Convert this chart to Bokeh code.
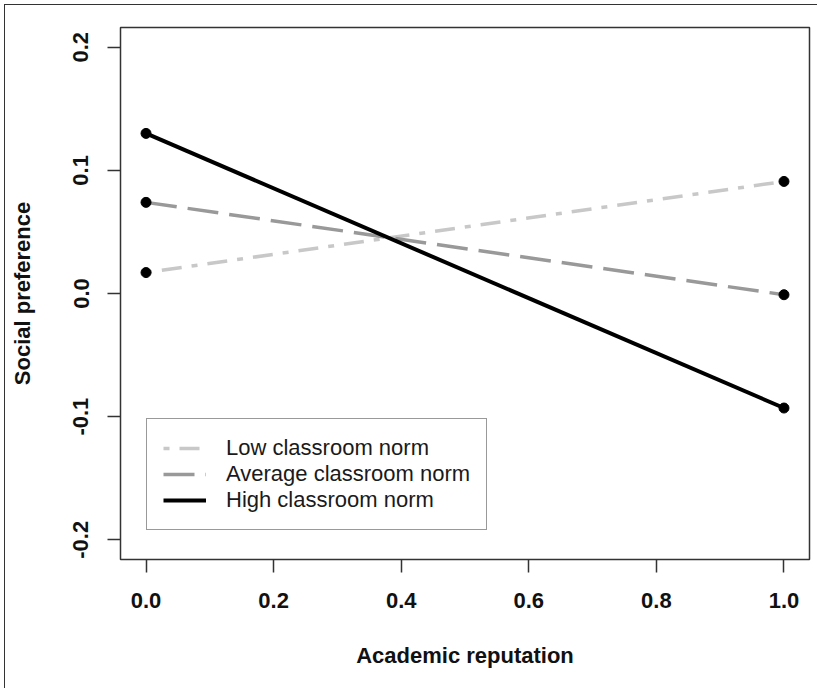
from bokeh.plotting import figure
from bokeh.models import FixedTicker, Range1d, Legend, LegendItem
from bokeh.embed import file_html
from bokeh.resources import INLINE

# ---- data ----
x_vals = [0.0, 1.0]
low_norm = [0.017, 0.091]
average_norm = [0.074, -0.001]
high_norm = [0.130, -0.093]

x_ticks = [0.0, 0.2, 0.4, 0.6, 0.8, 1.0]
x_tick_labels = ["0.0", "0.2", "0.4", "0.6", "0.8", "1.0"]
y_ticks = [-0.2, -0.1, 0.0, 0.1, 0.2]
y_tick_labels = ["-0.2", "-0.1", "0.0", "0.1", "0.2"]

series_names = ["Low classroom norm", "Average classroom norm", "High classroom norm"]

FONT = "Liberation Sans"
DARK = "#333333"

p = figure(
    width=812, height=683,
    frame_width=689, frame_height=532,
    min_border_left=115, min_border_right=8,
    min_border_top=22, min_border_bottom=129,
    x_range=Range1d(-0.04, 1.04), y_range=Range1d(-0.216, 0.216),
    output_backend="svg", toolbar_location=None,
    background_fill_color="white", border_fill_color="white",
)
p.styles = {"margin-left": "4px", "margin-top": "4px",
            "border-top": "1px solid #333333", "border-left": "1px solid #333333"}

p.grid.visible = False
p.outline_line_color = DARK
p.outline_line_width = 1.5
p.outline_line_alpha = 1.0

for ax in (p.xaxis[0], p.yaxis[0]):
    ax.axis_line_color = None
    ax.major_tick_out = 13
    ax.major_tick_in = 0
    ax.major_tick_line_color = DARK
    ax.major_tick_line_width = 1.5
    ax.minor_tick_line_color = None
    ax.major_label_text_font = FONT
    ax.major_label_text_font_size = "22px"
    ax.major_label_text_font_style = "bold"
    ax.major_label_text_color = "#111111"
    ax.axis_label_text_font = FONT
    ax.axis_label_text_font_size = "22px"
    ax.axis_label_text_font_style = "bold"
    ax.axis_label_text_color = "#111111"

p.xaxis.ticker = FixedTicker(ticks=x_ticks)
p.xaxis.major_label_overrides = dict(zip(x_ticks, x_tick_labels))
p.xaxis.axis_label = "Academic reputation"
p.xaxis.major_label_standoff = 20
p.xaxis.axis_label_standoff = 32

p.yaxis.ticker = FixedTicker(ticks=y_ticks)
p.yaxis.major_label_overrides = dict(zip(y_ticks, y_tick_labels))
p.yaxis.major_label_orientation = "vertical"
p.yaxis.axis_label = "Social preference"
p.yaxis.major_label_standoff = 19
p.yaxis.axis_label_standoff = 36

r_low = p.line(x_vals, low_norm, line_color="#c8c8c8", line_width=3.5,
               line_dash="6 10 20 10")
r_avg = p.line(x_vals, average_norm, line_color="#999999", line_width=3.5,
               line_dash="31 11")
r_high = p.line(x_vals, high_norm, line_color="black", line_width=4)

for ys in (low_norm, average_norm, high_norm):
    p.scatter(x_vals, ys, size=10, color="black")

legend = Legend(
    items=[LegendItem(label=series_names[0], renderers=[r_low]),
           LegendItem(label=series_names[1], renderers=[r_avg]),
           LegendItem(label=series_names[2], renderers=[r_high])],
    location=(26, 29),
    border_line_color=DARK, border_line_width=1.5,
    background_fill_color="white", background_fill_alpha=1.0,
    label_text_font=FONT, label_text_font_size="22px", label_text_color="#1a1a1a",
    glyph_width=43, glyph_height=26, label_height=26, label_standoff=20,
    spacing=0, padding=16, margin=0,
)
p.add_layout(legend, "center")

open("out.html", "w").write(file_html(p, INLINE))
